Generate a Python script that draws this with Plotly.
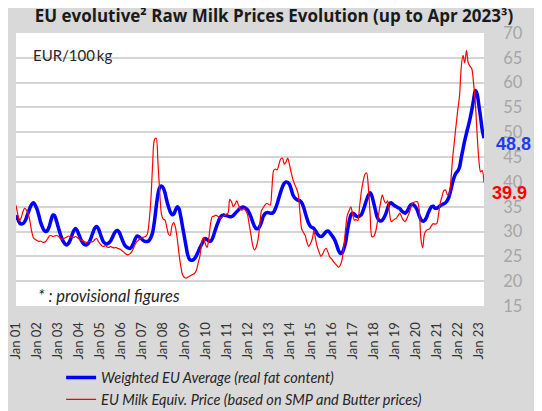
import pandas as pd
import plotly.graph_objects as go

# ---- data (monthly, Jan 2001 .. Apr 2023) ----
weighted_eu_avg = [
    33.3, 32.5, 31.8, 31.5, 31.6, 32.0, 32.8, 33.8, 34.8, 35.5, 35.8, 35.3,   # 2001
    34.5, 33.3, 32.0, 31.0, 30.3, 30.0, 30.2, 31.0, 32.3, 33.3, 33.2, 32.3,   # 2002
    31.0, 29.8, 28.8, 28.0, 27.5, 27.3, 27.6, 28.3, 29.3, 30.2, 30.6, 30.2,   # 2003
    29.3, 28.4, 27.8, 27.4, 27.3, 27.5, 28.0, 28.9, 29.9, 30.7, 31.0, 30.6,   # 2004
    29.6, 28.6, 27.9, 27.6, 27.5, 27.7, 28.1, 28.8, 29.6, 30.1, 30.2, 29.8,   # 2005
    28.9, 28.0, 27.3, 26.9, 26.7, 26.6, 26.9, 27.6, 28.5, 29.1, 29.0, 28.7,   # 2006
    28.4, 28.1, 28.0, 28.0, 28.2, 28.8, 29.8, 32.0, 35.0, 37.5, 38.9, 39.2,   # 2007
    38.8, 37.8, 36.3, 35.0, 34.0, 33.4, 33.5, 34.3, 35.0, 34.6, 33.0, 31.0,   # 2008
    29.0, 27.0, 25.3, 24.4, 24.2, 24.3, 24.6, 25.2, 26.0, 26.8, 27.5, 28.2,   # 2009
    28.6, 28.4, 28.1, 28.0, 28.5, 29.5, 30.6, 31.6, 32.5, 33.1, 33.3, 33.3,   # 2010
    33.2, 33.1, 33.0, 33.0, 33.2, 33.6, 34.0, 34.4, 34.7, 34.9, 34.9, 34.7,   # 2011
    34.4, 33.8, 33.0, 32.0, 31.1, 30.6, 30.6, 31.0, 31.9, 33.0, 33.6, 33.8,   # 2012
    33.8, 33.7, 33.7, 33.9, 34.6, 35.6, 36.8, 38.0, 39.0, 39.7, 40.0, 39.9,   # 2013
    39.5, 38.5, 37.4, 36.8, 36.5, 36.3, 36.2, 35.8, 35.0, 33.8, 32.6, 31.6,   # 2014
    31.0, 30.8, 30.6, 30.1, 29.5, 29.1, 29.0, 29.2, 29.6, 30.0, 30.1, 29.8,   # 2015
    29.3, 28.8, 28.2, 27.2, 26.2, 25.6, 25.7, 26.5, 27.8, 30.0, 32.0, 33.3,   # 2016
    33.7, 33.5, 33.1, 33.0, 33.1, 33.4, 34.2, 35.3, 36.4, 37.3, 37.8, 37.2,   # 2017
    35.8, 34.3, 33.0, 32.3, 32.1, 32.3, 32.8, 33.6, 34.7, 35.6, 35.8, 35.5,   # 2018
    35.2, 35.0, 34.8, 34.6, 34.2, 33.9, 33.7, 34.0, 34.7, 35.3, 35.5, 35.3,   # 2019
    34.9, 34.2, 33.2, 32.4, 32.1, 32.2, 32.7, 33.6, 34.4, 35.0, 35.1, 34.7,   # 2020
    34.7, 34.9, 35.2, 35.4, 35.6, 35.8, 36.2, 37.0, 38.3, 39.8, 41.0, 41.8,   # 2021
    42.2, 43.0, 44.8, 46.6, 48.3, 49.8, 51.2, 52.7, 54.5, 56.5, 58.4, 57.8,   # 2022
    55.5, 53.0, 50.5, 48.8,                                                   # 2023
]

eu_milk_equiv = [
    35.3, 33.5, 32.2, 32.8, 34.0, 34.7, 34.3, 33.6, 32.0, 30.0, 28.7, 28.4,   # 2001
    28.2, 28.0, 28.1, 27.9, 27.8, 28.0, 28.5, 29.1, 29.2, 29.0, 29.1, 29.2,   # 2002
    29.1, 28.7, 28.4, 28.5, 28.7, 28.9, 29.1, 29.0, 28.8, 28.8, 29.0, 28.8,   # 2003
    28.5, 28.3, 28.2, 28.0, 27.8, 27.9, 28.0, 27.9, 28.0, 28.4, 28.6, 28.0,   # 2004
    27.5, 27.1, 27.0, 27.2, 26.9, 26.8, 27.0, 26.8, 26.7, 26.8, 26.6, 26.5,   # 2005
    26.3, 26.0, 25.7, 25.4, 25.3, 25.5, 25.9, 26.6, 27.4, 28.0, 28.3, 28.6,   # 2006
    28.8, 28.9, 29.0, 29.5, 32.0, 36.5, 43.5, 48.5, 48.8, 44.0, 38.0, 33.5,   # 2007
    32.5, 32.3, 31.0, 29.5, 29.2, 31.2, 31.8, 30.8, 28.5, 25.5, 23.0, 21.3,   # 2008
    20.8, 20.6, 20.8, 21.0, 21.2, 21.4, 21.6, 22.3, 23.8, 25.2, 28.0, 28.8,   # 2009
    27.5, 26.8, 28.5, 31.5, 33.0, 33.1, 33.3, 33.1, 32.8, 32.7, 33.0, 33.3,   # 2010
    33.5, 33.8, 36.5, 36.0, 35.0, 35.5, 36.2, 35.3, 34.5, 34.3, 34.6, 34.2,   # 2011
    33.5, 31.5, 29.5, 27.3, 26.3, 26.8, 28.2, 31.0, 34.2, 34.8, 35.3, 35.7,   # 2012
    35.5, 35.3, 38.5, 42.3, 42.6, 42.4, 43.5, 44.6, 44.8, 43.6, 44.0, 44.8,   # 2013
    43.5, 41.8, 40.5, 39.5, 38.7, 37.6, 34.0, 30.5, 29.8, 29.2, 27.8, 27.0,   # 2014
    27.6, 28.5, 30.2, 28.3, 26.8, 25.8, 25.0, 25.5, 26.3, 26.6, 25.8, 24.9,   # 2015
    24.5, 24.0, 23.6, 23.2, 22.8, 23.2, 24.3, 27.0, 30.5, 33.3, 34.2, 35.0,   # 2016
    33.5, 32.3, 32.4, 32.2, 35.0, 38.0, 40.0, 41.5, 41.8, 39.0, 33.5, 29.0,   # 2017
    29.0, 29.8, 31.5, 33.8, 35.8, 37.4, 36.3, 35.7, 36.2, 34.0, 32.0, 32.2,   # 2018
    32.5, 32.7, 33.2, 33.7, 33.0, 32.3, 32.0, 32.6, 33.5, 34.5, 35.6, 35.9,   # 2019
    36.0, 36.0, 34.5, 28.5, 26.7, 29.5, 30.2, 30.4, 30.6, 31.2, 31.6, 31.5,   # 2020
    31.6, 33.5, 35.7, 37.0, 38.2, 38.4, 37.5, 37.4, 40.0, 44.5, 48.0, 51.3,   # 2021
    54.5, 57.5, 63.0, 65.5, 64.0, 66.5, 64.0, 63.3, 62.8, 60.0, 56.0, 50.0,   # 2022
    44.5, 42.0, 42.3, 39.9,                                                   # 2023
]

months = pd.date_range("2001-01-01", periods=len(weighted_eu_avg), freq="MS")
tick_years = list(range(2001, 2024))
tick_vals = [pd.Timestamp(f"{y}-01-01") for y in tick_years]
tick_text = [f"Jan {y % 100:02d}" for y in tick_years]

series_names = ["Weighted EU Average (real fat content)",
                "EU Milk Equiv. Price (based on SMP and Butter prices)"]
last_blue = "48.8"
last_red = "39.9"

FONT = "Lato"

fig = go.Figure()
fig.add_trace(go.Scatter(
    x=months, y=weighted_eu_avg, mode="lines", name=series_names[0],
    line=dict(color="#0000ff", width=3.5, shape="spline", smoothing=0.8),
))
fig.add_trace(go.Scatter(
    x=months, y=eu_milk_equiv, mode="lines", name=series_names[1],
    line=dict(color="#ff0000", width=1.2, shape="spline", smoothing=0.8),
))

# the page adds an 8px body margin, so the figure is sized/positioned to compensate
fig.update_layout(
    width=534, height=403,
    margin=dict(l=8, r=58, t=25, b=105, autoexpand=False),
    paper_bgcolor="#d9d9d9",
    plot_bgcolor="#ffffff",
    font=dict(family=FONT, color="#262626"),
    title=dict(
        text="<b>EU evolutive² Raw Milk Prices Evolution (up to Apr 2023³)</b>",
        x=0.498, xanchor="center", y=0.995, yanchor="top",
        pad=dict(t=0, b=0),
        font=dict(size=17, family="Open Sans", color="#1a1a1a"),
    ),
    showlegend=True,
    legend=dict(
        x=0.0964, xanchor="left", y=-0.204, yanchor="top",
        bgcolor="rgba(0,0,0,0)", font=dict(size=14.5, family=FONT, color="#262626", style="italic"),
        tracegroupgap=0, itemwidth=30,
    ),
    xaxis=dict(
        type="date", automargin=False,
        range=[months[0], months[-1]],
        tickmode="array", tickvals=tick_vals, ticktext=tick_text,
        tickangle=-90, tickfont=dict(size=13, family=FONT, color="#333333"),
        ticklabeloverflow="allow",
        showgrid=False, zeroline=False, showline=False,
        ticks="outside", ticklen=10, tickcolor="rgba(0,0,0,0)",
    ),
    yaxis=dict(
        side="right", automargin=False, range=[15, 70], dtick=5, tick0=15,
        tickfont=dict(size=16.5, family=FONT, color="#a6a6a6"),
        ticklabeloverflow="allow",
        showgrid=True, gridcolor="#d4d4d4", gridwidth=1.5,
        zeroline=False, showline=False,
        ticks="outside", ticklen=15, tickcolor="rgba(0,0,0,0)",
    ),
    annotations=[
        dict(text="EUR/100\u2009kg", xref="paper", yref="paper", x=0.032, y=0.92,
             xanchor="left", yanchor="middle", showarrow=False,
             font=dict(size=15, family=FONT, color="#262626")),
        dict(text="<i>* : provisional figures</i>", xref="paper", yref="paper", x=0.043, y=0.037,
             xanchor="left", yanchor="middle", showarrow=False,
             font=dict(size=16.5, family=FONT, color="#262626")),
        dict(text=f"<b>{last_blue}</b>", xref="paper", yref="paper", x=1.0213, y=(306 - 144) / 273,
             xanchor="left", yanchor="middle", showarrow=False,
             font=dict(size=18, family="Liberation Sans", color="#1f3cf0")),
        dict(text=f"<b>{last_red}</b>", xref="paper", yref="paper", x=1.013, y=(306 - 193) / 273,
             xanchor="left", yanchor="middle", showarrow=False,
             font=dict(size=18, family="Liberation Sans", color="#ff0000")),
    ],
)

fig.write_html("out.html")
